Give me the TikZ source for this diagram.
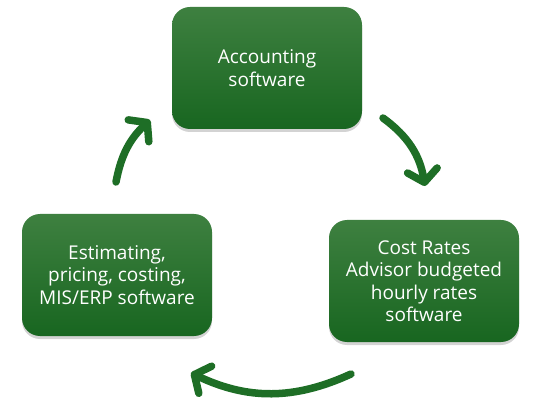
\documentclass[tikz,border=0pt]{standalone}
\usepackage{fontspec}
\setmainfont{Open Sans}
\usetikzlibrary{arrows.meta,shadows}
\definecolor{boxtop}{RGB}{62,128,64}
\definecolor{boxbot}{RGB}{24,102,32}
\definecolor{arrowgreen}{RGB}{30,110,38}
\begin{document}
\begin{tikzpicture}[x=1pt, y=-1pt,
    stagebox/.style={rounded corners=18pt, top color=boxtop, bottom color=boxbot,
      minimum width=190pt, minimum height=122pt, inner sep=0pt, align=center,
      text=white, font=\fontsize{19}{22.5}\selectfont,
      drop shadow={opacity=0.35, shadow xshift=0pt, shadow yshift=-3pt}},
    cyclearrow/.style={arrowgreen, line width=7.5pt, line cap=round,
      -{Straight Barb[round, length=12pt, width=30pt]}}]
    \useasboundingbox (0,0) rectangle (540,411);

    \node[stagebox] (acc) at (267,68) {Accounting\\software};
    \node[stagebox] (crab) at (424,281) {Cost Rates\\Advisor budgeted\\hourly rates\\software};
    \node[stagebox] (est) at (117,275) {Estimating,\\pricing, costing,\\MIS/ERP software};

    % ends of the arrows
    \coordinate (a1) at (383,118);
    \coordinate (b1) at (425,186);
    \coordinate (a2) at (351,374);
    \coordinate (b2) at (191,373);
    \coordinate (a3) at (116,182);
    \coordinate (b3) at (150,120);

    \draw[cyclearrow] (a1) to[bend left=22] (b1);
    \draw[cyclearrow] (a2) to[bend left=25] (b2);
    \draw[cyclearrow] (a3) to[bend left=18] (b3);

  \end{tikzpicture}
\end{document}
